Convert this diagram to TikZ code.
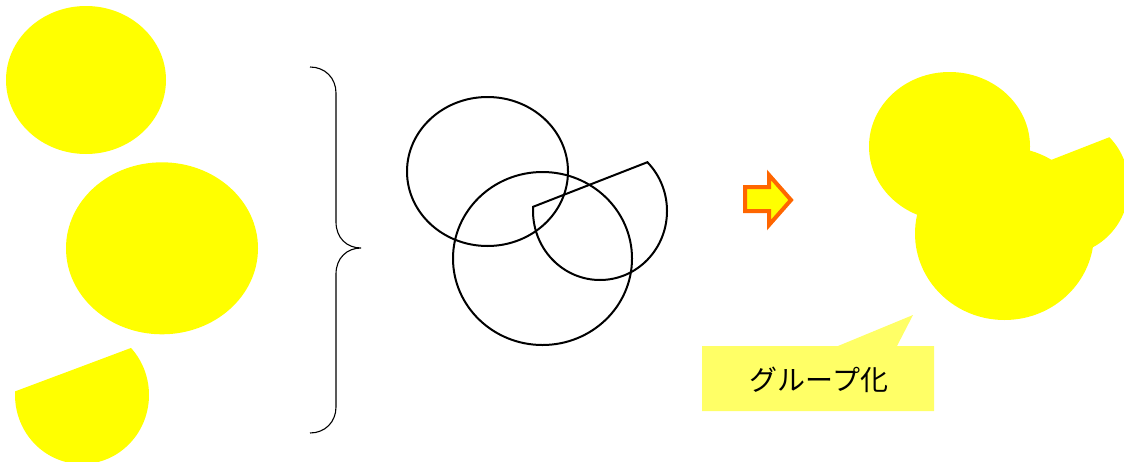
\documentclass[tikz,border=0pt]{standalone}
\usepackage{fontspec}
\newfontfamily\cjk{Noto Sans CJK JP}
\definecolor{fillyellow}{HTML}{FFFF00}
\definecolor{paleyellow}{HTML}{FFFF66}
\definecolor{arroworange}{HTML}{FF6600}
\tikzset{
  solid yellow/.style={fill=fillyellow, draw=none},
  outline shape/.style={draw=black, line width=2pt, fill=none},
  bracepath/.style={draw=black, line width=1.1pt},
  callout/.style={fill=paleyellow, draw=none},
  block arrow/.style={draw=arroworange, fill=fillyellow, line width=4pt, line join=miter},
}
\begin{document}
\begin{tikzpicture}[x=1pt, y=-1pt]
\useasboundingbox (0,0) rectangle (1124,461);
% left: separate yellow shapes
\fill[solid yellow] (86,80) ellipse [x radius=80, y radius=74];
\fill[solid yellow] (162,248.3) ellipse [x radius=96, y radius=86];
\fill[solid yellow] (82,395) ++(-43:67 and 69) arc[start angle=-43, end angle=183, x radius=67, y radius=69] -- cycle;
% brace
\coordinate (bt) at (310,67);
\coordinate (bb) at (310,433);
\coordinate (tip) at (361,248);
\draw[bracepath] (bt) .. controls (325,67) and (336,78) .. (336,93) -- (336,222)
  .. controls (336,238) and (347,248) .. (tip)
  .. controls (347,248) and (336,258) .. (336,274) -- (336,407)
  .. controls (336,422) and (325,433) .. (bb);
% middle: outlines
\draw[outline shape] (487.5,171.5) ellipse [x radius=80.5, y radius=74.5];
\draw[outline shape] (542.5,258.5) ellipse [x radius=89.5, y radius=86.5];
\draw[outline shape, line join=miter] (600,211) ++(-45:67 and 69) arc[start angle=-45, end angle=183.5, x radius=67, y radius=69] -- cycle;
% arrow
\draw[block arrow] (745,187) -- (769,187) -- (769,175) -- (791,200) -- (769,225) -- (769,211) -- (745,211) -- cycle;
% right: grouped shapes
\begin{scope}[shift={(462,-25)}]
\fill[solid yellow] (487.5,171.5) ellipse [x radius=80.5, y radius=74.5];
\fill[solid yellow] (542.5,258.5) ellipse [x radius=89.5, y radius=86.5];
\fill[solid yellow] (600,211) ++(-45:67 and 69) arc[start angle=-45, end angle=183.5, x radius=67, y radius=69] -- cycle;
\end{scope}
% callout
\fill[callout] (702,346) -- (838,346) -- (913,315) -- (897,346) -- (934,346) -- (934,411) -- (702,411) -- cycle;
\node[font=\cjk\fontsize{28}{32}\selectfont, inner sep=0pt, anchor=center] (label) at (819,380) {グループ化};
\end{tikzpicture}
\end{document}
